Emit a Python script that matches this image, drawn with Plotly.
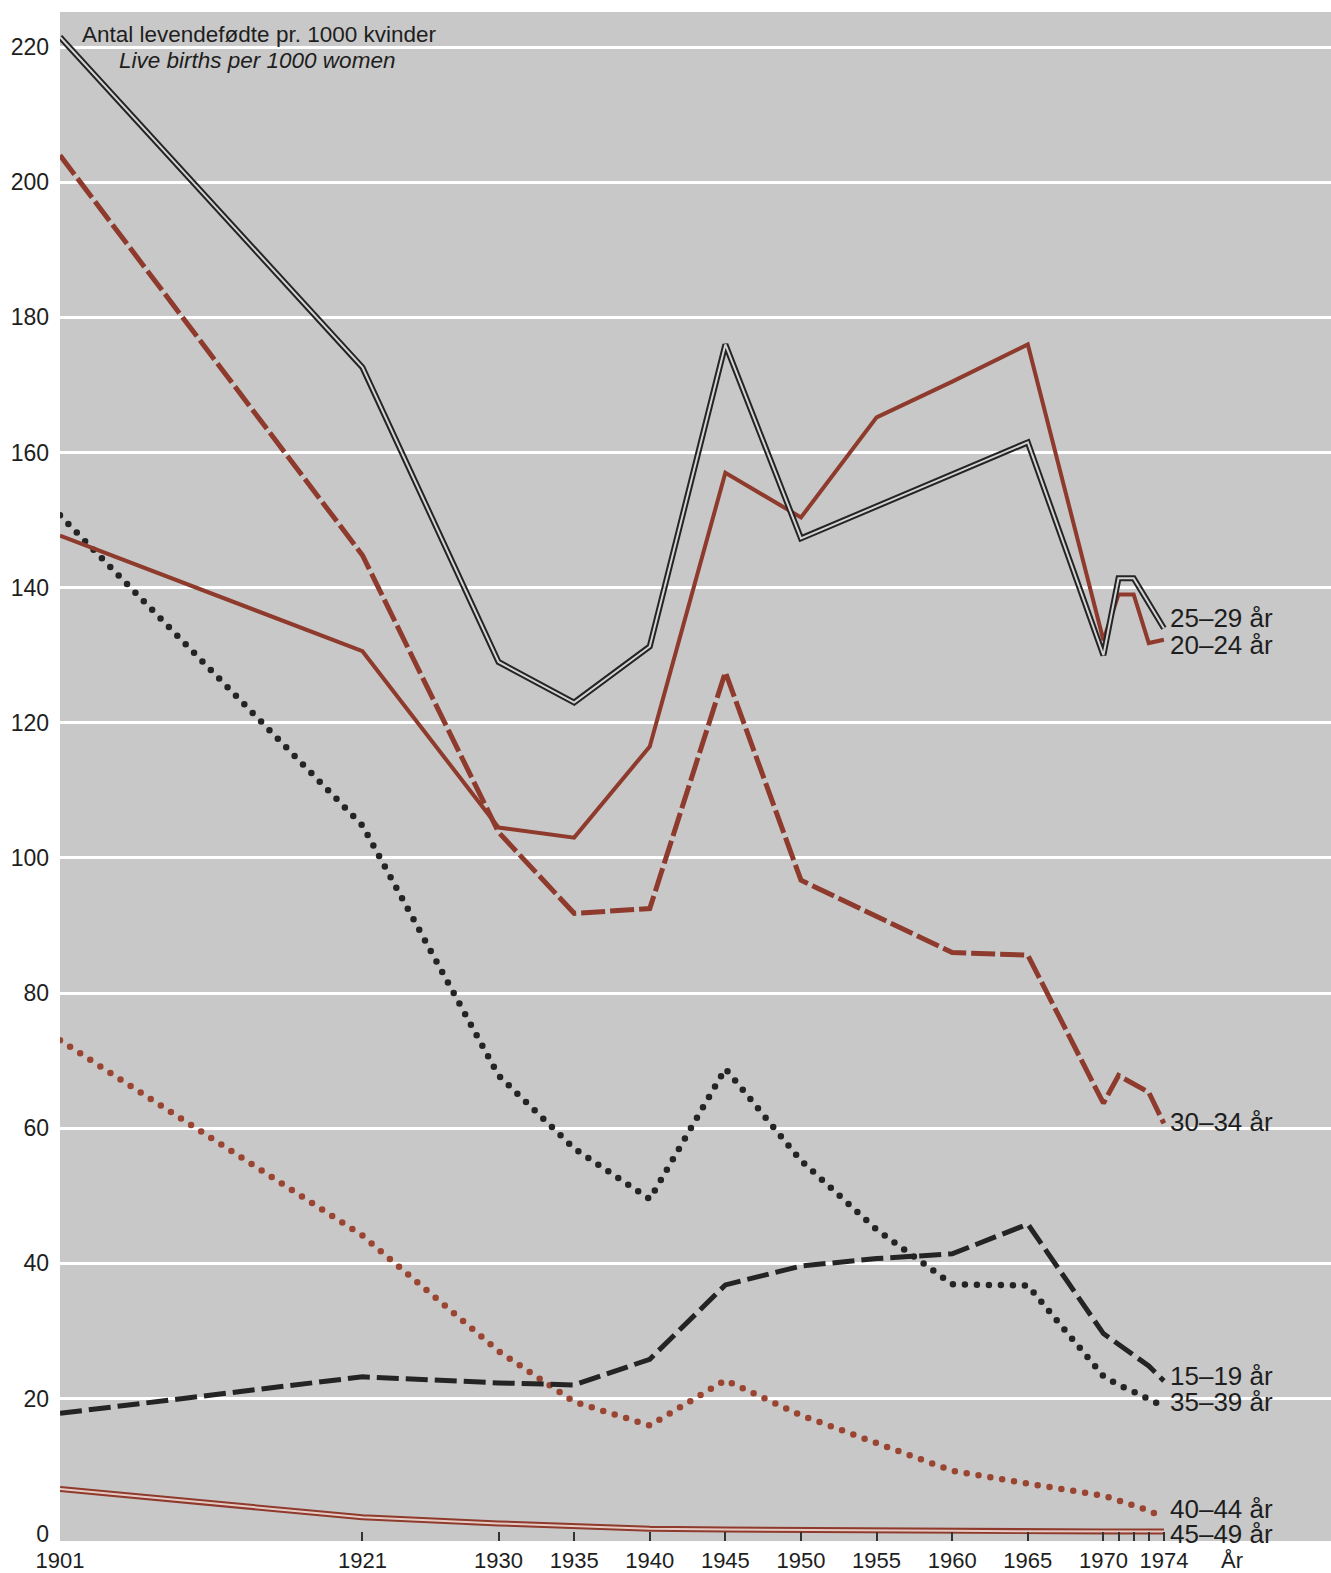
import plotly.graph_objects as go

years = [1901, 1921, 1930, 1935, 1940, 1945, 1950, 1955, 1960, 1965, 1970, 1971, 1972, 1973, 1974]

age_15_19 = [17.8, 23.2, 22.3, 22.0, 25.8, 36.8, 39.6, 40.7, 41.4, 45.8, 29.6, 28.0, 26.5, 24.8, 22.6]
age_20_24 = [147.7, 130.6, 104.5, 103.0, 116.5, 157.0, 150.4, 165.2, 170.5, 176.0, 132.2, 139.0, 139.0, 131.8, 132.3]
age_25_29 = [221.5, 172.6, 129.0, 123.0, 131.3, 176.0, 147.3, 152.0, 156.8, 161.5, 130.0, 141.4, 141.4, 137.6, 134.0]
age_30_34 = [204.0, 144.8, 103.8, 91.8, 92.5, 127.5, 96.7, 91.3, 86.0, 85.6, 63.7, 67.8, 66.6, 65.3, 60.7]
age_35_39 = [150.7, 104.8, 67.8, 57.0, 49.5, 68.8, 55.2, 45.0, 36.9, 36.7, 23.3, 22.0, 21.0, 20.0, 18.8]
age_40_44 = [73.0, 44.1, 27.0, 19.5, 16.0, 22.7, 17.5, 13.3, 9.3, 7.4, 5.6, 4.9, 4.2, 3.4, 2.3]
age_45_49 = [6.6, 2.4, 1.5, 1.1, 0.7, 0.6, 0.5, 0.45, 0.4, 0.35, 0.3, 0.3, 0.3, 0.3, 0.3]

series_labels = ["25–29 år", "20–24 år", "30–34 år", "15–19 år", "35–39 år", "40–44 år", "45–49 år"]
label_values = [135.5, 131.5, 60.9, 23.3, 19.5, 3.7, 0.0]

y_ticks = [0, 20, 40, 60, 80, 100, 120, 140, 160, 180, 200, 220]
x_ticks = [1901, 1921, 1930, 1935, 1940, 1945, 1950, 1955, 1960, 1965, 1970, 1971, 1972, 1973, 1974]
x_ticktext = ["1901", "1921", "1930", "1935", "1940", "1945", "1950", "1955", "1960", "1965", "1970", "", "", "", "1974"]

BG = "#c8c8c8"
RED = "#8e3a2c"
RED_DOT = "#9a4532"
DARK = "#242424"
TXT = "#1e1e1e"
FONT = "Liberation Sans, Arial, sans-serif"

fig = go.Figure()

def add(y, color, width, dash="solid"):
    fig.add_trace(go.Scatter(x=years, y=y, mode="lines", showlegend=False, hoverinfo="skip",
                             line=dict(color=color, width=width, dash=dash, shape="linear")))

# order matters for post_script (dotted traces indices)
add(age_45_49, RED, 6)                   # 0
add(age_45_49, "#e6cbc4", 2)             # 1
add(age_40_44, RED_DOT, 6.5, "0px,12px") # 2 dotted
add(age_35_39, DARK, 6.5, "0px,12px")    # 3 dotted
add(age_15_19, DARK, 5, "22px,7px")      # 4
add(age_30_34, RED, 5, "24px,5px")       # 5
add(age_20_24, RED, 4)                   # 6
add(age_25_29, DARK, 6)                  # 7
add(age_25_29, "#d4d4d4", 2)             # 8

for lab, v in zip(series_labels, label_values):
    fig.add_annotation(x=1974.25, y=v, xref="x", yref="y", text=lab, showarrow=False,
                       xanchor="left", yanchor="middle", font=dict(size=26, color=TXT, family=FONT))

fig.add_annotation(x=1978.5, y=0, xref="x", yref="paper", text="År", showarrow=False,
                   xanchor="center", yanchor="top", yshift=-5, font=dict(size=22, color=TXT, family=FONT))

fig.add_annotation(x=0.0155, y=0.9855, xref="paper", yref="paper", text="Antal levendefødte pr. 1000 kvinder",
                   showarrow=False, xanchor="left", yanchor="middle", font=dict(size=22.5, color=TXT, family=FONT))
fig.add_annotation(x=0.0445, y=0.9685, xref="paper", yref="paper", text="<i>Live births per 1000 women</i>",
                   showarrow=False, xanchor="left", yanchor="middle", font=dict(size=22.5, color=TXT, family=FONT))

fig.update_layout(
    width=1331, height=1573,
    margin=dict(l=60, r=0, t=12, b=32, autoexpand=False),
    paper_bgcolor="white", plot_bgcolor=BG,
    font=dict(family=FONT, color=TXT),
    xaxis=dict(range=[1901, 1985.05], tickvals=x_ticks, ticktext=x_ticktext, ticks="inside",
               ticklen=9, tickwidth=1.5, tickcolor="#333", showgrid=False, zeroline=False,
               showline=False, automargin=False, ticklabelstandoff=4,
               tickfont=dict(size=22, family=FONT, color=TXT)),
    yaxis=dict(range=[-1.1, 225.2], tickvals=y_ticks, showgrid=True, gridcolor="white", gridwidth=3,
               zeroline=True, zerolinecolor=BG, zerolinewidth=4, ticks="", showline=False,
               automargin=False, ticklabelstandoff=10,
               tickfont=dict(size=23, family=FONT, color=TXT)),
)

post = """
document.body.style.margin = '0';
document.body.style.padding = '0';
var gd = document.getElementById('{plot_id}');
function fixCaps(){
  var traces = gd.querySelectorAll('.scatterlayer .trace');
  [2,3].forEach(function(i){
    if (traces[i]) { var p = traces[i].querySelector('.js-line'); if (p) { p.style.strokeLinecap='round'; } }
  });
}
fixCaps();
if (gd.on) { gd.on('plotly_afterplot', fixCaps); }
"""

fig.write_html("out.html", post_script=post, config={"displayModeBar": False})
